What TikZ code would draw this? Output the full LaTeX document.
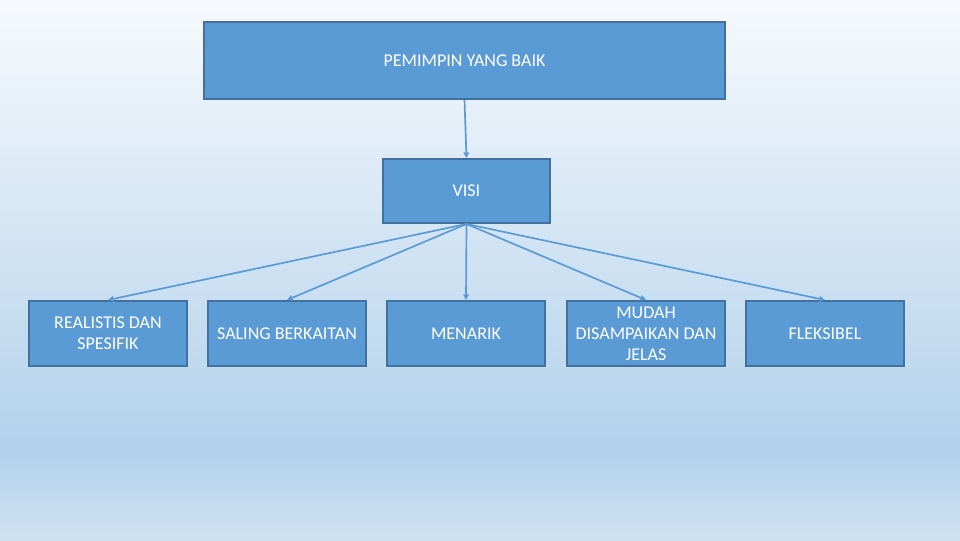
\documentclass[tikz,border=0pt]{standalone}
\usepackage{fontspec}
\setmainfont{Carlito}
\usetikzlibrary{arrows.meta}
\definecolor{boxfill}{HTML}{5B9BD5}
\definecolor{boxline}{HTML}{41719C}
\definecolor{bgtop}{HTML}{F7FAFD}
\definecolor{bgmid}{HTML}{B2D1EB}
\definecolor{bgbottom}{HTML}{CEE1F2}
\tikzset{
  box/.style={draw=boxline, fill=boxfill, line width=1.4pt, text=white,
              font=\fontsize{12.8}{15}\selectfont, align=center, inner sep=2pt},
  leafbox/.style={box, minimum width=3.95cm, minimum height=1.625cm},
  link/.style={draw=boxfill, line width=1.2pt, -{Triangle[length=4pt,width=4pt]}},
}
\begin{document}
\begin{tikzpicture}[x=0.025cm, y=-0.025cm]
    % background
    \useasboundingbox (0,0) rectangle (960,540);
    \fill[top color=bgtop, bottom color=bgmid] (0,0) rectangle (960,450);
    \fill[top color=bgmid, bottom color=bgbottom] (0,450) rectangle (960,540);
    % boxes
    \node[box, minimum width=13.025cm, minimum height=1.925cm] (leader) at (464.5, 60.5) {PEMIMPIN YANG BAIK};
    \node[box, minimum width=4.175cm, minimum height=1.6cm] (visi) at (466.5, 191) {VISI};
    \node[leafbox] (real) at (108, 333.5) {REALISTIS DAN\\SPESIFIK};
    \node[leafbox] (saling) at (287, 333.5) {SALING BERKAITAN};
    \node[leafbox] (menarik) at (466, 333.5) {MENARIK};
    \node[leafbox] (mudah) at (646, 333.5) {MUDAH\\DISAMPAIKAN DAN\\JELAS};
    \node[leafbox] (fleks) at (825, 333.5) {FLEKSIBEL};
    % links
    \draw[link] (leader.south) -- (visi.north);
    \foreach \leaf in {real, saling, menarik, mudah, fleks}
      \draw[link] (visi.south) -- (\leaf.north);
  \end{tikzpicture}
\end{document}
